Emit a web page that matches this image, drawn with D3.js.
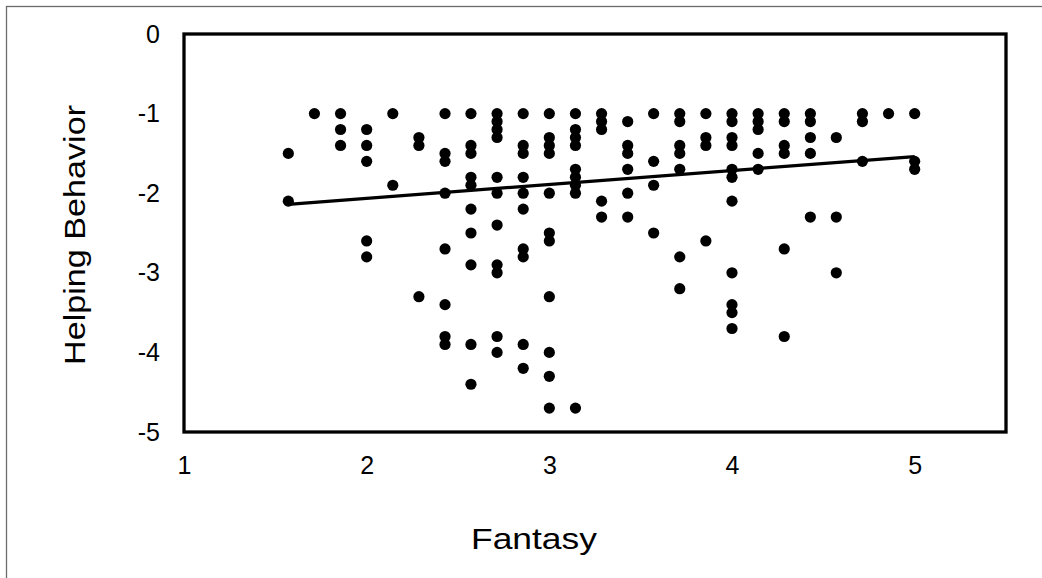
<!DOCTYPE html>
<html lang="en">
<head>
    <meta charset="UTF-8">
    <title>Helping Behavior vs Fantasy</title>
    <script src="https://d3js.org/d3.v7.min.js"></script>
    <style>
        body { margin: 0; background: #fff; }
        text { font-family: "Liberation Sans", Arial, sans-serif; fill: #000; }
    </style>
</head>
<body>
<div id="chart"></div>

<script>
    // fantasy score columns and the helping values read at each column
    var fantasy = [1.571, 1.714, 1.857, 2.0, 2.143, 2.286, 2.429, 2.571, 2.714, 2.857,
                   3.0, 3.143, 3.286, 3.429, 3.571, 3.714, 3.857, 4.0, 4.143, 4.286,
                   4.429, 4.571, 4.714, 4.857, 5.0];
    var helping = [
        [-1.5, -2.1],
        [-1],
        [-1, -1.2, -1.4],
        [-1.2, -1.4, -1.6, -2.6, -2.8],
        [-1, -1.9],
        [-1.3, -1.4, -3.3],
        [-1, -1.5, -1.6, -2.0, -2.7, -3.4, -3.8, -3.9],
        [-1, -1.4, -1.5, -1.8, -1.9, -2.2, -2.5, -2.9, -3.9, -4.4],
        [-1, -1.1, -1.2, -1.3, -1.8, -2.0, -2.4, -2.9, -3.0, -3.8, -4.0],
        [-1, -1.4, -1.5, -1.8, -2.0, -2.2, -2.7, -2.8, -3.9, -4.2],
        [-1, -1.3, -1.4, -1.5, -2.0, -2.5, -2.6, -3.3, -4.0, -4.3, -4.7],
        [-1, -1.2, -1.3, -1.4, -1.7, -1.8, -1.9, -2.0, -4.7],
        [-1, -1.1, -1.2, -2.1, -2.3],
        [-1.1, -1.4, -1.5, -1.7, -2.0, -2.3],
        [-1, -1.6, -1.9, -2.5],
        [-1, -1.1, -1.4, -1.5, -1.7, -2.8, -3.2],
        [-1, -1.3, -1.4, -2.6],
        [-1, -1.1, -1.3, -1.4, -1.7, -1.8, -2.1, -3.0, -3.4, -3.5, -3.7],
        [-1, -1.1, -1.2, -1.5, -1.7],
        [-1, -1.1, -1.4, -1.5, -2.7, -3.8],
        [-1, -1.1, -1.3, -1.5, -2.3],
        [-1.3, -2.3, -3.0],
        [-1, -1.1, -1.6],
        [-1],
        [-1, -1.6, -1.7]
    ];
    // linear trend line end points
    var trendX = [1.571, 5.0];
    var trendY = [-2.14, -1.54];

    var xTicks = [1, 2, 3, 4, 5];
    var yTicks = [0, -1, -2, -3, -4, -5];

    var W = 1042, H = 578;
    var plot = {left: 184, right: 1006, top: 34, bottom: 432};

    var points = [];
    fantasy.forEach(function (f, i) {
        helping[i].forEach(function (h) { points.push({x: f, y: h}); });
    });

    var x = d3.scaleLinear().domain([1, 5.5]).range([plot.left, plot.right]);
    var y = d3.scaleLinear().domain([-5, 0]).range([plot.bottom, plot.top]);

    var svg = d3.select("#chart").append("svg")
        .attr("width", W)
        .attr("height", H);

    // outer chart frame (runs off the right and bottom of the picture)
    svg.append("rect")
        .attr("x", 6.5).attr("y", 6.5)
        .attr("width", W + 20).attr("height", H + 20)
        .attr("fill", "none")
        .attr("stroke", "#6b6b6b")
        .attr("stroke-width", 1.3);

    var yAxis = svg.append("g")
        .attr("transform", "translate(" + plot.left + ",0)")
        .call(d3.axisLeft(y).tickValues(yTicks).tickSize(0).tickPadding(24));
    var xAxis = svg.append("g")
        .attr("transform", "translate(0," + plot.bottom + ")")
        .call(d3.axisBottom(x).tickValues(xTicks).tickSize(0).tickPadding(24));
    [xAxis, yAxis].forEach(function (g) {
        g.select(".domain").remove();
        g.selectAll("text")
            .style("font-family", "'Liberation Sans', Arial, sans-serif")
            .style("font-size", "25px")
            .attr("fill", "#000")
            .text(function (d) { return String(d); });
    });

    // plot border
    svg.append("rect")
        .attr("x", plot.left).attr("y", plot.top)
        .attr("width", plot.right - plot.left)
        .attr("height", plot.bottom - plot.top)
        .attr("fill", "none")
        .attr("stroke", "#000")
        .attr("stroke-width", 3.3);

    svg.selectAll("circle.pt")
        .data(points)
        .enter()
        .append("circle")
            .attr("class", "pt")
            .attr("cx", function (d) { return x(d.x); })
            .attr("cy", function (d) { return y(d.y); })
            .attr("r", 5.6)
            .attr("fill", "#000");

    svg.append("path")
        .datum(trendX.map(function (v, i) { return [v, trendY[i]]; }))
        .attr("fill", "none")
        .attr("stroke", "#000")
        .attr("stroke-width", 3.2)
        .attr("d", d3.line()
            .x(function (d) { return x(d[0]); })
            .y(function (d) { return y(d[1]); }));

    svg.append("text")
        .attr("x", 534)
        .attr("y", 549)
        .attr("text-anchor", "middle")
        .attr("textLength", 126)
        .attr("lengthAdjust", "spacingAndGlyphs")
        .style("font-size", "29px")
        .text("Fantasy");

    svg.append("text")
        .attr("transform", "translate(85,235) rotate(-90)")
        .attr("text-anchor", "middle")
        .attr("textLength", 260)
        .attr("lengthAdjust", "spacingAndGlyphs")
        .style("font-size", "29px")
        .text("Helping Behavior");
</script>
</body>
</html>
